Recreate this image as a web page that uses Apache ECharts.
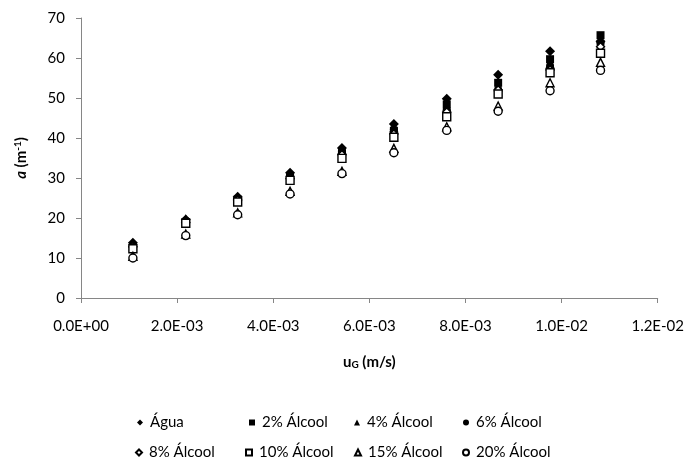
<!DOCTYPE html>
<html>
<head>
<meta charset="utf-8">
<script src="https://cdn.jsdelivr.net/npm/echarts@6/dist/echarts.min.js"></script>
<style>html,body{margin:0;padding:0;background:#fff;}#c{width:687px;height:464px;}</style>
</head>
<body>
<div id="c"></div>
<script>
// Data
var uG = [1.08e-3, 2.18e-3, 3.26e-3, 4.35e-3, 5.43e-3, 6.51e-3, 7.61e-3, 8.68e-3, 9.76e-3, 1.081e-2];
var agua  = [13.8, 19.6, 25.3, 31.3, 37.5, 43.5, 49.8, 55.8, 61.7, 64.2];
var alc2  = [12.6, 19.0, 24.6, 30.2, 36.2, 41.8, 48.4, 53.8, 59.7, 65.7];
var alc4  = [13.6, 19.8, 25.1, 31.0, 37.2, 42.6, 47.8, 52.6, 58.6, 64.8];
var alc6  = [13.2, 19.3, 24.8, 30.5, 36.6, 42.1, 47.1, 52.1, 58.0, 63.5];
var alc8  = [12.8, 18.9, 24.5, 29.8, 35.8, 41.0, 46.5, 52.0, 57.0, 62.8];
var alc10 = [12.3, 18.7, 24.0, 29.4, 34.9, 40.2, 45.3, 51.0, 56.3, 61.2];
var alc15 = [10.4, 16.0, 21.3, 26.7, 31.7, 37.4, 42.8, 48.0, 53.8, 58.9];
var alc20 = [10.0, 15.6, 20.8, 26.0, 31.1, 36.3, 41.9, 46.7, 51.8, 56.9];
var names = ['Água', '2% Álcool', '4% Álcool', '6% Álcool', '8% Álcool', '10% Álcool', '15% Álcool', '20% Álcool'];
var xTicks = [0, 0.002, 0.004, 0.006, 0.008, 0.010, 0.012];

var FONT = 'Lato';
function fmtE(v) {
  var s = Number(v).toExponential(1).toUpperCase();
  var m = s.match(/^(-?[\d.]+)E([+-])(\d+)$/);
  if (!m) return s;
  var e = m[3].length < 2 ? '0' + m[3] : m[3];
  return m[1] + 'E' + m[2] + e;
}
function pts(ys) { return ys.map(function (y, i) { return [uG[i], y]; }); }

var styles = [
  {sym: 'diamond', size: 10, fill: true},
  {sym: 'rect', size: 8, fill: true},
  {sym: 'triangle', size: 9, fill: true},
  {sym: 'circle', size: 8, fill: true},
  {sym: 'diamond', size: 8, fill: false},
  {sym: 'rect', size: 8, fill: false},
  {sym: 'triangle', size: 8, fill: false},
  {sym: 'circle', size: 8, fill: false}
];
var datasets = [agua, alc2, alc4, alc6, alc8, alc10, alc15, alc20];

var series = datasets.map(function (d, i) {
  var st = styles[i];
  return {
    name: names[i], type: 'scatter', data: pts(d),
    symbol: st.sym, symbolSize: st.size,
    itemStyle: st.fill ? {color: '#000', opacity: 1} : {color: '#fff', borderColor: '#000', borderWidth: 1.4, opacity: 1},
    emphasis: {disabled: true}
  };
});

var legPos = [
  [137, 415], [249, 415], [354, 415], [463, 415],
  [135, 445], [245, 445], [354, 445], [462, 445]
];
var legends = names.map(function (n, i) {
  return {
    data: [{name: n, icon: styles[i].sym}], left: legPos[i][0], top: legPos[i][1],
    padding: 0, itemWidth: 6, itemHeight: 6, itemGap: 0,
    textStyle: {fontFamily: FONT, fontSize: 15, color: '#000', padding: [0, 0, 0, 2]},
    selectedMode: false
  };
});

var chart = echarts.init(document.getElementById('c'), null, {renderer: 'canvas'});
chart.setOption({
  animation: false,
  backgroundColor: '#fff',
  grid: {left: 81, right: 29, top: 18, bottom: 166, containLabel: false},
  legend: legends,
  xAxis: {
    type: 'value', min: 0, max: 0.012, interval: 0.002,
    name: '{b|u}{sub|G}{b| (m/s)}', nameLocation: 'middle', nameGap: 56,
    nameTextStyle: {rich: {
      b: {fontFamily: FONT, fontSize: 15, fontWeight: 'bold', color: '#000'},
      sub: {fontFamily: FONT, fontSize: 10, fontWeight: 'bold', color: '#000', verticalAlign: 'bottom', padding: [6, 0, 0, 0]}
    }},
    axisLine: {show: true, lineStyle: {color: '#868686', width: 1}},
    axisTick: {show: true, length: 5, lineStyle: {color: '#868686'}},
    splitLine: {show: false},
    axisLabel: {formatter: fmtE, fontFamily: FONT, fontSize: 15, color: '#000', margin: 21}
  },
  yAxis: {
    type: 'value', min: 0, max: 70, interval: 10,
    name: '{i|a}{b| (m}{sup|-1}{b|)}', nameLocation: 'middle', nameGap: 52, nameRotate: 90,
    nameTextStyle: {rich: {
      i: {fontFamily: FONT, fontSize: 15, fontWeight: 'bold', fontStyle: 'italic', color: '#000'},
      b: {fontFamily: FONT, fontSize: 15, fontWeight: 'bold', color: '#000'},
      sup: {fontFamily: FONT, fontSize: 10, fontWeight: 'bold', color: '#000', verticalAlign: 'top', padding: [0, 0, 6, 0]}
    }},
    axisLine: {show: true, lineStyle: {color: '#868686', width: 1}},
    axisTick: {show: true, length: 5, lineStyle: {color: '#868686'}},
    splitLine: {show: false},
    axisLabel: {fontFamily: FONT, fontSize: 15, color: '#000', margin: 16}
  },
  series: series
});
</script>
</body>
</html>
